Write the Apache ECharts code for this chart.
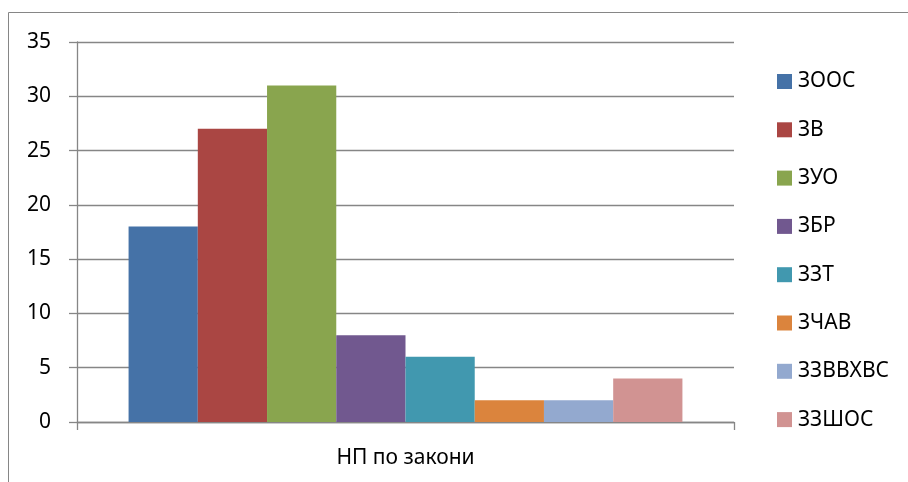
<!DOCTYPE html>
<html>
<head>
<meta charset="utf-8">
<script src="https://cdn.jsdelivr.net/npm/echarts@6/dist/echarts.min.js"></script>
<style>html,body{margin:0;padding:0;background:#fff}#c{width:908px;height:482px}</style>
</head>
<body>
<div id="c"></div>
<script>
var categories = ['НП по закони'];
var seriesNames = ['ЗООС', 'ЗВ', 'ЗУО', 'ЗБР', 'ЗЗТ', 'ЗЧАВ', 'ЗЗВВХВС', 'ЗЗШОС'];
var seriesValues = [18, 27, 31, 8, 6, 2, 2, 4];
var colors = ['#4572A7', '#AA4643', '#89A54E', '#71588F', '#4198AF', '#DB843D', '#93A9CF', '#D19392'];
var yTicks = [0, 5, 10, 15, 20, 25, 30, 35];

var font = '"Noto Sans", sans-serif';
var chart = echarts.init(document.getElementById('c'));
chart.setOption({
  animation: false,
  color: colors,
  textStyle: { fontFamily: font },
  graphic: [{
    type: 'rect', silent: true,
    shape: { x: 8.5, y: 12.5, width: 1000, height: 1000 },
    style: { fill: 'none', stroke: '#868686', lineWidth: 1 }
  }],
  grid: { left: 77, right: 174, top: 42, bottom: 60, containLabel: false },
  legend: {
    orient: 'vertical', left: 777, top: 71, padding: 0,
    icon: 'rect', itemWidth: 15, itemHeight: 15, itemGap: 27.3,
    textStyle: { fontSize: 21, color: '#000', fontFamily: font, lineHeight: 21, padding: [0, 0, 0, 1] },
    data: seriesNames
  },
  xAxis: {
    type: 'category', data: categories,
    axisLine: { lineStyle: { color: '#868686', width: 1.3 } },
    axisTick: { show: true, length: 8, lineStyle: { color: '#868686', width: 1.3 } },
    axisLabel: { fontSize: 21, color: '#000', margin: 26, fontFamily: font }
  },
  yAxis: {
    type: 'value', min: yTicks[0], max: yTicks[yTicks.length - 1], interval: 5,
    axisLine: { show: true, lineStyle: { color: '#868686', width: 1.3 } },
    axisTick: { show: true, length: 8, lineStyle: { color: '#868686', width: 1.3 } },
    splitLine: { show: true, lineStyle: { color: '#868686', width: 1.3 } },
    axisLabel: { fontSize: 21, color: '#000', margin: 26, fontFamily: font }
  },
  series: seriesNames.map(function (n, i) {
    return {
      name: n, type: 'bar', data: [seriesValues[i]],
      barGap: '0%', barCategoryGap: '15.7%',
      itemStyle: { color: colors[i] }
    };
  })
});
</script>
</body>
</html>
